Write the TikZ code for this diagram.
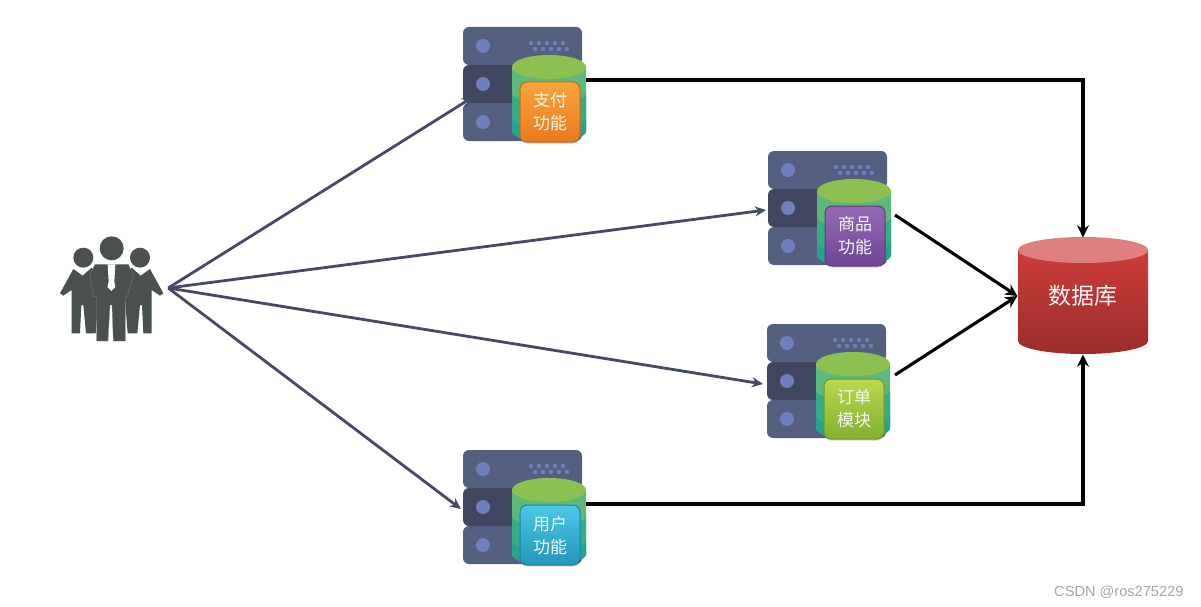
\documentclass[tikz,border=0pt]{standalone}
\usepackage{fontspec}
\newfontfamily\cjk{Noto Sans CJK SC}
\setsansfont{Liberation Sans}
\usetikzlibrary{arrows.meta,shadows}
\definecolor{rackblue}{HTML}{555F80}
\definecolor{rackdark}{HTML}{40465F}
\definecolor{rackdot}{HTML}{6F7FBC}
\definecolor{wirecolor}{HTML}{434B66}
\definecolor{peoplegray}{HTML}{4A4F50}
\definecolor{drumtop}{HTML}{8CC152}
\definecolor{drumone}{HTML}{5DB97A}
\definecolor{drumtwo}{HTML}{35AD85}
\definecolor{drumthree}{HTML}{22A58C}
\definecolor{paytop}{HTML}{F8A53C}
\definecolor{paybot}{HTML}{E97A1E}
\definecolor{goodstop}{HTML}{9569B4}
\definecolor{goodsbot}{HTML}{6F4596}
\definecolor{ordertop}{HTML}{BBD94E}
\definecolor{orderbot}{HTML}{82AF32}
\definecolor{usertop}{HTML}{4CC8E8}
\definecolor{userbot}{HTML}{2496B8}
\definecolor{dbtop}{HTML}{DE8080}
\definecolor{dbupper}{HTML}{CC3D3A}
\definecolor{dblower}{HTML}{9B2C2A}
\tikzset{
    wire/.style={wirecolor, line width=2.8pt, -{Stealth[length=11pt,width=10pt]}},
    dbline/.style={black, line width=3.1pt, -{Stealth[length=12pt,width=12pt]}},
    badge/.style={rounded corners=7pt, minimum width=60pt, minimum height=60pt, inner sep=0pt,
        align=center, text=white!92!gray, font=\cjk\fontsize{17}{23}\selectfont,
        drop shadow={shadow xshift=0pt,shadow yshift=-1.5pt,opacity=.35}},
}
% one server rack with its drum and the coloured badge
\newcommand{\serverunit}[6]{
    \begin{scope}[shift={(#2)}]
        \fill[rackblue, rounded corners=6pt] (0,0) rectangle (119,38);
        \fill[rackblue, rounded corners=6pt] (0,76) rectangle (119,114);
        \fill[rackdark, rounded corners=6pt] (0,38) rectangle (119,76);
        \foreach \y in {19,57,95}
        \fill[rackdot] (20,\y) circle (7);
        \foreach \k in {0,...,4} {
            \fill[rackdot] (68+8*\k,16) circle (2.2);
            \fill[rackdot] (72+8*\k,22) circle (2.2);
        }
        \fill[drumone] (49,40) -- (49,104) arc[start angle=180,end angle=0,x radius=37,y radius=11] -- (123,40) -- cycle;
        \fill[drumtwo] (49,66) -- (49,104) arc[start angle=180,end angle=0,x radius=37,y radius=11] -- (123,66) arc[start angle=0,end angle=180,x radius=37,y radius=11] -- cycle;
        \fill[drumthree] (49,91) -- (49,104) arc[start angle=180,end angle=0,x radius=37,y radius=11] -- (123,91) arc[start angle=0,end angle=180,x radius=37,y radius=11] -- cycle;
        \fill[drumtop] (86,40) ellipse (37 and 12);
        \node[badge, draw=#4!85!black, line width=1pt, top color=#3, bottom color=#4] (#1) at (87,85) {#5\\#6};
    \end{scope}
}
\begin{document}
\begin{tikzpicture}[x=1pt,y=-1pt]
    \useasboundingbox (0,0) rectangle (1201,607);
    % people
    \node[minimum width=116pt, minimum height=110pt, inner sep=0pt] (people) at (110,288) {};
    \begin{scope}[shift={(50,225)},scale=1/3]
        \foreach \m in {0,370} {
            \begin{scope}[shift={(\m,0)},xscale={\m==0 ? 1 : -1}]
                \fill[peoplegray] (100,98) circle (30);
                \fill[peoplegray] (70,132) -- (98,152) -- (125,128) -- (150,160) -- (137,325) -- (108,325)
                -- (100,240) -- (94,240) -- (90,325) -- (65,325) -- (65,195) -- (40,212) -- (30,205) -- cycle;
            \end{scope}
        }
        \draw[peoplegray!70!white, line width=.3pt, fill=peoplegray] (135,118) -- (235,118) -- (250,150) -- (232,215) -- (226,215) -- (226,348)
        -- (190,348) -- (186,240) -- (180,240) -- (174,348) -- (140,348) -- (140,215) -- (130,215) -- (120,150) -- cycle;
        \fill[peoplegray] (185,70) circle (36);
        \fill[white] (173,118) -- (196,118) -- (193,170) -- (196,186) -- (184,198) -- (172,186) -- (176,170) -- cycle;
    \end{scope}
    % servers
    \serverunit{paybadge}{463,27}{paytop}{paybot}{支付}{功能}
    \serverunit{goodsbadge}{768,151}{goodstop}{goodsbot}{商品}{功能}
    \serverunit{orderbadge}{767,324}{ordertop}{orderbot}{订单}{模块}
    \serverunit{userbadge}{463,450}{usertop}{userbot}{用户}{功能}
    % database
    \node[minimum width=131pt, minimum height=117pt, inner sep=0pt] (db) at (1083,296) {};
    \shade[top color=dbupper, bottom color=dblower] (1018,250) -- (1018,341) arc[start angle=180,end angle=0,x radius=65,y radius=13] -- (1148,250) -- cycle;
    \fill[dbtop] (1083,250) ellipse (65 and 13);
    \node[text=white!92!gray, font=\cjk\fontsize{23}{27}\selectfont] (dbtext) at (db.center) {数据库};
    % end points
    \coordinate (payin) at (473,97);
    \coordinate (goodsin) at (766,210);
    \coordinate (orderin) at (763,384);
    \coordinate (userin) at (461,509);
    \coordinate (payout) at (586,80);
    \coordinate (goodsout) at (895,215);
    \coordinate (orderout) at (895,375);
    \coordinate (userout) at (586,504);
    % connectors
    \foreach \target in {payin,goodsin,orderin,userin}
    \draw[wire] (people.east) -- (\target);
    \draw[dbline] (payout) -| (db.north);
    \draw[dbline] (userout) -| (db.south);
    \draw[dbline] (goodsout) -- (db.west);
    \draw[dbline] (orderout) -- (db.west);
    \node[text=gray!70, font=\sffamily\fontsize{14.6}{16}\selectfont, anchor=east] (mark) at (1187,592) {CSDN @ros275229};
\end{tikzpicture}
\end{document}
